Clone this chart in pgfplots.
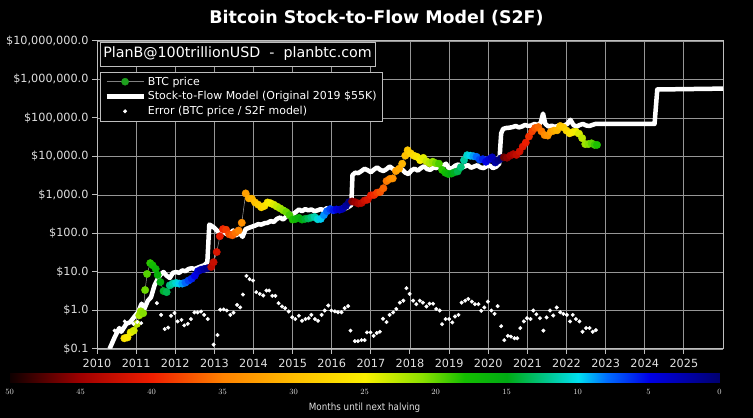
\documentclass[border=0pt]{standalone}
\usepackage{fontspec}
\setmainfont{DejaVu Sans}
\newfontfamily\cbfont{DejaVu Sans}[FakeStretch=0.88]
\usepackage{pgfplots}
\pgfplotsset{compat=1.18}
\usepackage{pgfplotstable}

\definecolor{tickcol}{RGB}{225,225,225}
\definecolor{framegray}{RGB}{190,190,190}
\definecolor{gridgray}{RGB}{150,150,150}
\definecolor{pricegreen}{RGB}{30,160,30}

\pgfplotsset{colormap={s2f}{
  rgb255(0pt)=(0,0,110) rgb255(5pt)=(0,0,230) rgb255(8pt)=(0,110,255)
  rgb255(10pt)=(0,225,240) rgb255(12pt)=(0,200,150) rgb255(15pt)=(0,170,20)
  rgb255(18pt)=(20,190,0) rgb255(21pt)=(140,225,0) rgb255(25pt)=(250,240,0)
  rgb255(30pt)=(255,190,0) rgb255(35pt)=(255,130,0) rgb255(40pt)=(240,30,0)
  rgb255(45pt)=(160,0,0) rgb255(50pt)=(15,0,0)}}

% BTC price, x = year, m = months until next halving
\pgfplotstableread{
x y m
2010.70 0.19 26.5
2010.78 0.20 25.6
2010.86 0.27 24.6
2010.94 0.30 23.6
2011.02 0.45 22.7
2011.08 0.75 22.0
2011.12 0.95 21.5
2011.18 0.85 20.8
2011.23 3.4 20.2
2011.28 8.9 19.6
2011.36 17 18.6
2011.42 15 17.9
2011.50 12 16.9
2011.55 8.4 16.3
2011.62 5.5 15.5
2011.70 3.2 14.5
2011.78 3.0 13.6
2011.86 4.5 12.6
2011.94 5.0 11.6
2012.02 5.2 10.7
2012.10 5.0 9.7
2012.18 5.0 8.8
2012.26 5.3 7.8
2012.34 6.0 6.8
2012.42 6.7 5.9
2012.50 8.0 4.9
2012.58 10.5 4.0
2012.66 11.5 3.0
2012.74 12.0 2.0
2012.82 12.5 1.1
2012.92 13.5 43.2
2012.98 18 42.5
2013.06 33 41.5
2013.14 85 40.6
2013.22 130 39.6
2013.30 125 38.6
2013.38 95 37.7
2013.46 90 36.7
2013.54 105 35.8
2013.62 120 34.8
2013.70 190 33.8
2013.80 1100 32.6
2013.88 820 31.7
2013.96 800 30.7
2014.04 640 29.8
2014.12 560 28.8
2014.20 480 27.8
2014.28 520 26.9
2014.36 640 25.9
2014.44 610 24.9
2014.52 560 24.0
2014.60 500 23.0
2014.68 450 22.1
2014.76 400 21.1
2014.84 360 20.2
2014.92 300 19.2
2015.00 230 18.2
2015.08 240 17.3
2015.16 255 16.3
2015.24 230 15.4
2015.32 240 14.4
2015.40 245 13.4
2015.48 260 12.5
2015.56 270 11.5
2015.64 235 10.6
2015.72 240 9.6
2015.80 300 8.6
2015.88 380 7.7
2015.96 430 6.7
2016.04 400 5.8
2016.12 420 4.8
2016.20 415 3.8
2016.28 440 2.9
2016.36 520 1.9
2016.44 650 1.0
2016.52 680 46.1
2016.60 650 45.1
2016.68 600 44.2
2016.76 620 43.2
2016.84 720 42.2
2016.92 760 41.3
2017.00 980 40.3
2017.08 1000 39.4
2017.16 1150 38.4
2017.24 1200 37.4
2017.32 1500 36.5
2017.40 2300 35.5
2017.48 2600 34.6
2017.56 2700 33.6
2017.64 4200 32.6
2017.72 4800 31.7
2017.80 6500 30.7
2017.88 10500 29.8
2017.94 14500 29.0
2018.02 12000 28.1
2018.10 10500 27.1
2018.18 9800 26.2
2018.26 8000 25.2
2018.34 9200 24.2
2018.42 7500 23.3
2018.50 6700 22.3
2018.58 7300 21.4
2018.66 6700 20.4
2018.74 6500 19.4
2018.82 4500 18.5
2018.90 3800 17.5
2018.98 3500 16.6
2019.06 3600 15.6
2019.14 3900 14.6
2019.22 4100 13.7
2019.30 5300 12.7
2019.38 8000 11.8
2019.46 10800 10.8
2019.54 10500 9.8
2019.62 10200 8.9
2019.70 9800 7.9
2019.78 8300 7.0
2019.86 8500 6.0
2019.94 7300 5.0
2020.02 8500 4.1
2020.10 9500 3.1
2020.18 7000 2.2
2020.26 8000 1.2
2020.33 9000 0.4
2020.40 9500 46.8
2020.48 9300 45.8
2020.56 10500 44.9
2020.64 11500 43.9
2020.72 11000 42.9
2020.80 13500 42.0
2020.88 18000 41.0
2020.96 23000 40.1
2021.04 33000 39.1
2021.12 45000 38.2
2021.20 55000 37.2
2021.28 58000 36.2
2021.36 45000 35.3
2021.44 36000 34.3
2021.52 35000 33.4
2021.60 44000 32.4
2021.68 47000 31.4
2021.76 48000 30.5
2021.84 62000 29.5
2021.92 57000 28.6
2022.00 47000 27.6
2022.08 40000 26.6
2022.16 43000 25.7
2022.24 44000 24.7
2022.32 39000 23.8
2022.40 30000 22.8
2022.48 21000 21.8
2022.56 21000 20.9
2022.64 22000 19.9
2022.72 20000 19.0
2022.78 20000 18.2
}\pricetable

% Stock-to-Flow model
\pgfplotstableread{
x y
2010.32 0.1
2010.45 0.2
2010.57 0.35
2010.62 0.28
2010.75 0.45
2010.85 0.5
2010.96 0.7
2011.05 0.9
2011.14 1.5
2011.21 1.1
2011.30 1.8
2011.38 2.2
2011.47 4.5
2011.55 6.5
2011.62 8.5
2011.70 10
2011.78 8
2011.86 7
2011.94 9.5
2012.02 10
2012.10 9.5
2012.18 11
2012.26 10.5
2012.34 12
2012.42 12.5
2012.50 12
2012.58 13
2012.66 14
2012.74 15
2012.82 18
2012.87 170
2012.92 160
2013.00 140
2013.08 115
2013.16 105
2013.24 110
2013.32 95
2013.40 100
2013.48 120
2013.56 90
2013.64 105
2013.72 82
2013.80 130
2013.88 140
2013.96 150
2014.04 160
2014.12 175
2014.20 170
2014.28 185
2014.36 190
2014.44 210
2014.52 200
2014.60 240
2014.68 260
2014.76 230
2014.84 280
2014.92 330
2015.00 310
2015.08 360
2015.16 420
2015.24 380
2015.32 430
2015.40 400
2015.48 420
2015.56 380
2015.64 400
2015.72 430
2015.80 400
2015.88 460
2015.96 420
2016.04 380
2016.12 440
2016.20 420
2016.28 470
2016.36 450
2016.44 500
2016.50 550
2016.53 3300
2016.60 3800
2016.68 3700
2016.76 4200
2016.84 4800
2016.92 4400
2017.00 3900
2017.08 4600
2017.16 5200
2017.24 4500
2017.32 4200
2017.40 4700
2017.48 5500
2017.56 4800
2017.64 4300
2017.72 4900
2017.80 4600
2017.88 3800
2017.96 3500
2018.04 4400
2018.12 4800
2018.20 4300
2018.28 5000
2018.36 5600
2018.44 4700
2018.52 4500
2018.60 5200
2018.68 5000
2018.76 6300
2018.84 5700
2018.92 6500
2019.00 4800
2019.08 5000
2019.16 5800
2019.24 6200
2019.32 5300
2019.40 5500
2019.48 6000
2019.56 5100
2019.64 5500
2019.72 5900
2019.80 5200
2019.88 5000
2019.96 5600
2020.04 5800
2020.12 5000
2020.20 5400
2020.28 6500
2020.33 40000
2020.38 52000
2020.46 55000
2020.54 56000
2020.62 58000
2020.70 62000
2020.78 57000
2020.86 60000
2020.94 66000
2021.02 62000
2021.10 64000
2021.18 70000
2021.26 66000
2021.34 75000
2021.40 130000
2021.46 70000
2021.54 60000
2021.62 63000
2021.70 59000
2021.78 62000
2021.86 58000
2021.94 64000
2022.02 70000
2022.10 90000
2022.18 65000
2022.26 60000
2022.34 66000
2022.42 70000
2022.50 64000
2022.58 62000
2022.66 66000
2022.74 70000
2024.25 70000
2024.32 550000
2026.00 580000
}\modeltable

% Error = BTC price / S2F model
\pgfplotstableread{
x y
2010.45 0.30
2010.55 0.32
2010.71 0.52
2010.93 0.45
2011.03 0.50
2011.13 0.47
2011.53 1.55
2011.64 0.77
2011.73 0.33
2011.82 0.36
2011.89 0.73
2011.98 0.86
2012.06 0.52
2012.16 0.57
2012.23 0.41
2012.32 0.45
2012.40 0.60
2012.49 0.89
2012.57 0.89
2012.66 0.94
2012.74 0.77
2012.83 0.60
2012.98 0.13
2013.08 0.23
2013.15 1.05
2013.24 1.07
2013.32 1.0
2013.41 0.77
2013.49 0.88
2013.58 1.4
2013.66 1.2
2013.73 2.6
2013.82 7.9
2013.90 6.5
2013.99 6.0
2014.07 3.0
2014.16 2.7
2014.25 2.45
2014.33 3.3
2014.40 3.3
2014.48 2.4
2014.56 2.4
2014.64 1.55
2014.73 1.27
2014.81 1.15
2014.90 0.94
2014.99 0.67
2015.07 0.60
2015.16 0.73
2015.24 0.54
2015.33 0.60
2015.41 0.63
2015.48 0.77
2015.57 0.60
2015.65 0.54
2015.74 0.77
2015.82 1.0
2015.91 1.35
2015.99 1.0
2016.08 0.95
2016.16 0.90
2016.25 0.90
2016.33 1.15
2016.42 1.3
2016.48 0.30
2016.59 0.16
2016.67 0.16
2016.76 0.17
2016.84 0.17
2016.90 0.27
2016.99 0.27
2017.07 0.22
2017.15 0.26
2017.23 0.28
2017.31 0.61
2017.40 0.50
2017.48 0.77
2017.57 0.89
2017.65 1.1
2017.74 1.6
2017.83 1.8
2017.91 3.8
2017.99 2.7
2018.08 1.8
2018.16 1.46
2018.25 1.8
2018.33 1.6
2018.42 1.27
2018.50 1.5
2018.59 1.5
2018.67 1.1
2018.76 1.0
2018.82 0.44
2018.91 0.6
2019.00 0.6
2019.08 0.49
2019.15 0.7
2019.24 0.77
2019.32 1.6
2019.41 1.8
2019.49 2.0
2019.58 1.7
2019.66 1.46
2019.75 1.46
2019.82 0.98
2019.90 1.2
2019.99 1.7
2020.08 1.0
2020.16 0.82
2020.24 1.3
2020.33 0.39
2020.41 0.17
2020.50 0.22
2020.58 0.21
2020.67 0.19
2020.74 0.19
2020.82 0.35
2020.91 0.52
2020.99 0.63
2021.08 0.6
2021.15 1.0
2021.23 0.8
2021.32 0.63
2021.41 0.30
2021.49 0.66
2021.58 1.0
2021.66 0.74
2021.75 1.2
2021.84 0.9
2021.92 0.82
2022.01 0.77
2022.09 0.52
2022.16 0.77
2022.24 0.6
2022.33 0.52
2022.41 0.28
2022.50 0.35
2022.59 0.35
2022.67 0.28
2022.75 0.31
}\errortable

\begin{document}
\begin{tikzpicture}
\fill[black] (0bp,0bp) rectangle (753bp,418bp);
\useasboundingbox (0bp,0bp) rectangle (753bp,418bp);

\node[font=\fontsize{17.5}{20}\selectfont\bfseries, text=white] at (376.5bp,400bp)
  {Bitcoin Stock-to-Flow Model (S2F)};

\begin{axis}[
    at={(97bp,69bp)}, anchor=south west,
    scale only axis, width=626bp, height=308bp,
    xmin=2010, xmax=2026,
    ymode=log, ymin=0.1, ymax=1e7,
    xtick={2010,2011,...,2025},
    ytick={0.1,1,10,100,1000,10000,100000,1000000,10000000},
    yticklabels={{\$0.1},{\$1.0},{\$10.0},{\$100.0},{\$1,000.0},{\$10,000.0},
      {\$100,000.0},{\$1,000,000.0},{\$10,000,000.0}},
    yminorticks=false,
    xticklabel style={/pgf/number format/1000 sep={},
      /pgf/number format/assume math mode=true,
      font=\fontsize{11.3}{13}\selectfont, text=tickcol, yshift=-1.5bp},
    yticklabel style={font=\fontsize{11.3}{13}\selectfont, text=tickcol},
    grid=major, grid style={gridgray, line width=0.8bp},
    axis line style={framegray, line width=1bp},
    tick style={framegray, line width=1bp},
    tick align=outside, major tick length=5bp, tick pos=left,
    colormap name=s2f, point meta min=0, point meta max=50,
    legend style={at={(0.005,0.899)}, anchor=north west, fill=black,
      draw=framegray, text=white, font=\fontsize{11}{13}\selectfont,
      inner xsep=4bp, inner ysep=2.5bp, row sep=1bp},
    legend cell align=left,
]
\addplot[forget plot, gray!75, line width=0.5bp] table[x=x, y=y] {\pricetable};
\addplot[forget plot, scatter, only marks, mark=*, mark size=3.7bp,
    scatter/use mapped color={draw=mapped color, fill=mapped color},
    point meta=explicit] table[x=x, y=y, meta=m] {\pricetable};
\addplot[forget plot, white, line width=4.5bp, line join=round] table[x=x, y=y] {\modeltable};
\addplot[forget plot, only marks, mark=*, mark size=1.8bp, white] table[x=x, y=y] {\errortable};

\addlegendimage{legend image code/.code={
  \draw[gray, line width=0.5bp] (0bp,0bp) -- (37bp,0bp);
  \fill[pricegreen] (18.5bp,0bp) circle (3.6bp);}}
\addlegendimage{legend image code/.code={
  \draw[white, line width=4.5bp] (0bp,0bp) -- (37bp,0bp);}}
\addlegendimage{legend image code/.code={
  \fill[white] (18.5bp,0bp) circle (1.8bp);}}
\legend{BTC price, Stock-to-Flow Model (Original 2019 \$55K), Error (BTC price / S2F model)}

\node[anchor=north west, draw=framegray, fill=black, text=white,
  font=\fontsize{14.3}{16}\selectfont, inner xsep=3bp, inner ysep=5bp]
  at (rel axis cs:0.005,0.997) {PlanB@100trillionUSD\ \ -\ \ planbtc.com};
\end{axis}

\begin{axis}[
    at={(9.6bp,35bp)}, anchor=south west,
    scale only axis, width=710bp, height=10bp,
    xmin=0, xmax=50, ymin=0, ymax=1, x dir=reverse,
    axis line style={draw=none}, ytick=\empty,
    xtick={0,5,...,50}, major tick length=0pt,
    xticklabel style={font=\cbfont\fontsize{8}{9}\selectfont, text=tickcol, yshift=-3bp},
    xlabel={Months until next halving},
    xlabel style={font=\cbfont\fontsize{10}{11}\selectfont, text=tickcol, yshift=-1bp},
    colormap name=s2f, point meta min=0, point meta max=50,
]
\addplot[surf, shader=interp, point meta=explicit, mesh/cols=11] coordinates {
(0,0) [0] (5,0) [5] (10,0) [10] (15,0) [15] (20,0) [20] (25,0) [25]
(30,0) [30] (35,0) [35] (40,0) [40] (45,0) [45] (50,0) [50]
(0,1) [0] (5,1) [5] (10,1) [10] (15,1) [15] (20,1) [20] (25,1) [25]
(30,1) [30] (35,1) [35] (40,1) [40] (45,1) [45] (50,1) [50]
};
\end{axis}
\end{tikzpicture}
\end{document}
